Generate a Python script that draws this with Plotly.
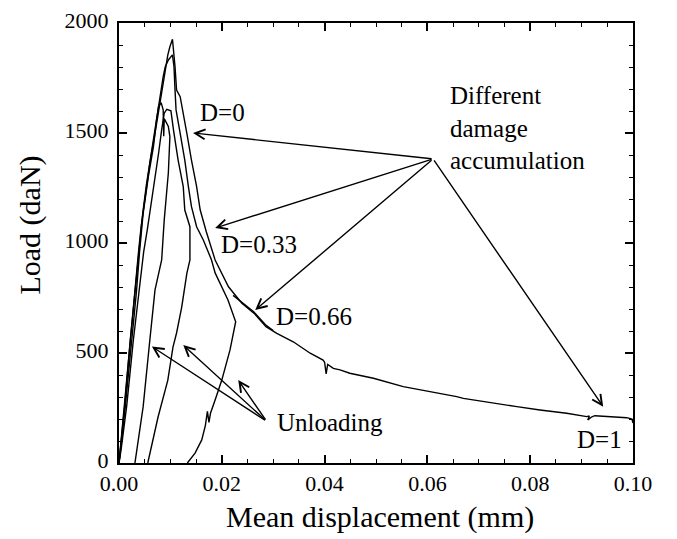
import plotly.graph_objects as go

# ---------------- data (mean displacement in mm, load in daN) ----------------
# Test that goes to full damage (D=1): loading, softening, long tail
x_full = [0, 0.0010, 0.0021, 0.0031, 0.0038, 0.0043, 0.0052, 0.0060, 0.0069, 0.0077, 0.0083, 0.0089,
          0.0095, 0.0099, 0.0104, 0.0109, 0.0112, 0.0119, 0.0124, 0.0132, 0.0141, 0.0151, 0.0158,
          0.0170, 0.0187, 0.0200, 0.0213, 0.0239, 0.0263, 0.0286, 0.0307, 0.0339, 0.0372, 0.0397,
          0.0400, 0.0403, 0.0406, 0.0417, 0.0430, 0.0449, 0.0495, 0.0553, 0.0605, 0.0657, 0.0670,
          0.0722, 0.0774, 0.0819, 0.0871, 0.0910, 0.0915, 0.0912, 0.0920, 0.0926, 0.0988, 0.0998, 0.1000]
y_full = [0, 256, 560, 800, 960, 1074, 1226, 1362, 1483, 1600, 1690, 1780,
          1855, 1892, 1926, 1801, 1695, 1665, 1605, 1498, 1377, 1256, 1150,
          1050, 923, 860, 801, 726, 680, 620, 589, 551, 499, 468,
          458, 405, 448, 430, 423, 408, 385, 347, 325, 302, 294,
          274, 256, 241, 226, 211, 214, 196, 210, 215, 206, 200, 182]

# Test unloaded at D=0.66
x_d066 = [0, 0.0011, 0.0022, 0.0032, 0.0040, 0.0046, 0.0053, 0.0061, 0.0069, 0.0078, 0.0086, 0.0090,
          0.0096, 0.0104, 0.0107, 0.0109, 0.0111, 0.0119, 0.0128, 0.0135, 0.0141, 0.0151, 0.0164,
          0.0180, 0.0187, 0.0212, 0.0227, 0.0216, 0.0200, 0.0187, 0.0178, 0.0175, 0.0172, 0.0168,
          0.0161, 0.0148, 0.0133]
y_d066 = [0, 256, 560, 800, 1000, 1130, 1260, 1380, 1500, 1650, 1756, 1801,
          1832, 1855, 1801, 1695, 1605, 1498, 1377, 1256, 1165, 1074, 1014,
          923, 864, 741, 642, 514, 377, 286, 226, 185, 235, 170,
          105, 45, 0]

# Overlapping branch near D=0.66 (thick portion of the curve)
x_overlap = [0.0222, 0.0240, 0.0262, 0.0285, 0.0300]
y_overlap = [762, 730, 688, 628, 602]

# Test unloaded at D=0.33
x_d033 = [0, 0.0004, 0.0015, 0.0028, 0.0040, 0.0048, 0.0055, 0.0062, 0.0070, 0.0077, 0.0083, 0.0088,
          0.0093, 0.0101, 0.0106, 0.0115, 0.0125, 0.0128, 0.0138, 0.0138, 0.0132, 0.0122, 0.0112,
          0.0105, 0.0095, 0.0076, 0.0056]
y_d033 = [0, 60, 260, 560, 800, 960, 1060, 1165, 1301, 1408, 1514, 1590,
          1608, 1601, 1514, 1377, 1256, 1150, 1074, 923, 862, 709, 591,
          527, 377, 209, 0]

# Test unloaded at D=0 (around the peak)
x_d0 = [0, 0.0012, 0.0024, 0.0034, 0.0040, 0.0047, 0.0057, 0.0067, 0.0073, 0.0077, 0.0082, 0.0086,
        0.0087, 0.0088, 0.0096, 0.0099, 0.0096, 0.0088, 0.0083, 0.0070, 0.0060, 0.0047, 0.0031]
y_d0 = [0, 250, 540, 780, 960, 1135, 1301, 1438, 1559, 1620, 1638, 1605,
        1485, 1565, 1530, 1483, 1318, 1105, 923, 786, 559, 256, 0]

curves = [(x_full, y_full), (x_d066, y_d066), (x_overlap, y_overlap), (x_d033, y_d033), (x_d0, y_d0)]

# Labels and arrows: (text, x, y)
labels = [("D=0", 0.0201, 1593), ("D=0.33", 0.0273, 991), ("D=0.66", 0.0379, 668), ("D=1", 0.0934, 105)]
damage_src = (0.0611, 1382)
damage_heads = [(0.0144, 1500), (0.0187, 1068), (0.0265, 695), (0.0942, 256)]
unload_src = (0.0287, 190)
unload_heads = [(0.0064, 529), (0.0125, 536), (0.0232, 377)]

x_ticks = [0.00, 0.02, 0.04, 0.06, 0.08, 0.10]
y_ticks = [0, 500, 1000, 1500, 2000]

FONT = "Liberation Serif, Times New Roman, DejaVu Serif, serif"

fig = go.Figure()
for xs, ys in curves:
    fig.add_trace(go.Scatter(x=xs, y=ys, mode="lines",
                             line=dict(color="black", width=1.4), showlegend=False,
                             hoverinfo="skip"))

ann = []
for txt, x, y in labels:
    ann.append(dict(x=x, y=y, xref="x", yref="y", text=txt, showarrow=False,
                    font=dict(family=FONT, size=25, color="black")))
for hx, hy in damage_heads:
    ann.append(dict(x=hx, y=hy, xref="x", yref="y", ax=damage_src[0], ay=damage_src[1],
                    axref="x", ayref="y", text="", showarrow=True, arrowhead=5,
                    arrowsize=1.4, arrowwidth=1.4, arrowcolor="black"))
for hx, hy in unload_heads:
    ann.append(dict(x=hx, y=hy, xref="x", yref="y", ax=unload_src[0], ay=unload_src[1],
                    axref="x", ayref="y", text="", showarrow=True, arrowhead=5,
                    arrowsize=1.4, arrowwidth=1.4, arrowcolor="black"))
ann.append(dict(x=0.0304, y=186, xref="x", yref="y", text="Unloading", showarrow=False,
                xanchor="left", font=dict(family=FONT, size=25, color="black")))
ann.append(dict(x=0.0640, y=1523, xref="x", yref="y",
                text="Different<br>damage<br>accumulation", showarrow=False,
                xanchor="left", align="left",
                font=dict(family=FONT, size=25, color="black")))
# axis titles
ann.append(dict(x=0.508, y=-0.1227, xref="paper", yref="paper", text="Mean displacement (mm)",
                showarrow=False, yanchor="middle",
                font=dict(family=FONT, size=30, color="black")))
ann.append(dict(x=-0.174, y=0.541, xref="paper", yref="paper", text="Load (daN)",
                showarrow=False, textangle=-90, xanchor="center", yanchor="middle",
                font=dict(family=FONT, size=30, color="black")))

fig.update_layout(
    width=677, height=539,
    margin=dict(l=119, r=44, t=23, b=76, autoexpand=False),
    plot_bgcolor="white", paper_bgcolor="white",
    font=dict(family=FONT, color="black"),
    annotations=ann,
    showlegend=False,
)
fig.update_xaxes(range=[0, 0.10], tickvals=x_ticks, ticktext=[f"{v:.2f}" for v in x_ticks],
                 automargin=False,
                 showgrid=False, zeroline=False, showline=True, linecolor="black", linewidth=2,
                 mirror="ticks", ticks="inside", ticklen=8, tickwidth=1.5, tickcolor="black",
                 tickfont=dict(family=FONT, size=22, color="black"),
                 minor=dict(dtick=0.005, tick0=0, ticks="inside", ticklen=4, tickwidth=1.2,
                            tickcolor="black", showgrid=False))
fig.update_yaxes(range=[0, 2000], tickvals=y_ticks, ticktext=[str(v) for v in y_ticks],
                 automargin=False,
                 showgrid=False, zeroline=False, showline=True, linecolor="black", linewidth=2,
                 mirror="ticks", ticks="inside", ticklen=8, tickwidth=1.5, tickcolor="black",
                 ticklabelshift=-3, ticklabelstandoff=4,
                 tickfont=dict(family=FONT, size=22, color="black"),
                 minor=dict(dtick=100, tick0=0, ticks="inside", ticklen=4, tickwidth=1.2,
                            tickcolor="black", showgrid=False))

fig.write_html("out.html")
